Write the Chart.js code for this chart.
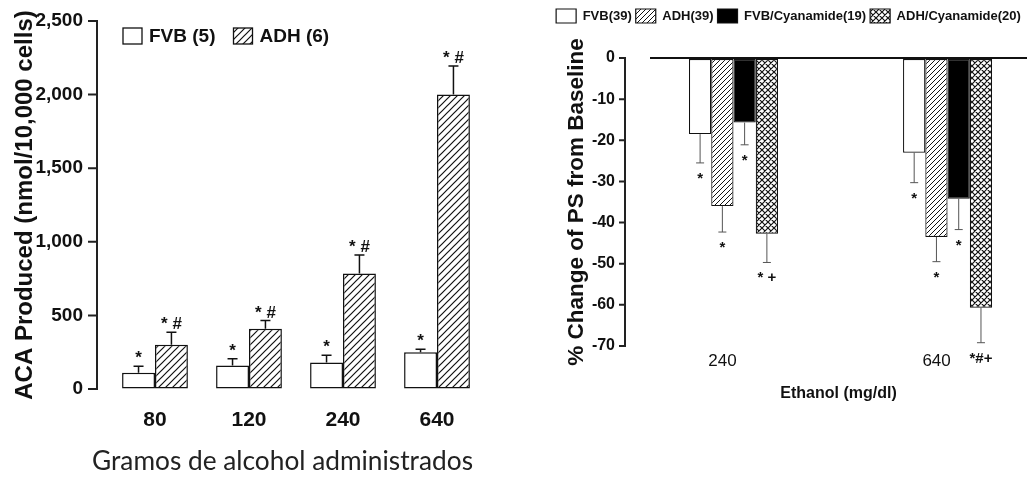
<!DOCTYPE html>
<html>
<head>
<meta charset="utf-8">
<script src="https://cdn.jsdelivr.net/npm/chart.js@4"></script>
<style>
  body { margin: 0; background: #fff; width: 1034px; height: 478px; overflow: hidden; position: relative; }
  #aca { position: absolute; left: 0; top: 0; }
  #ps { position: absolute; left: 540px; top: 0; }
</style>
</head>
<body>
<canvas id="aca" width="520" height="478"></canvas>
<canvas id="ps" width="494" height="478"></canvas>
<script>
// left panel: acetaldehyde produced
const doseLabels = ["80", "120", "240", "640"];
const fvbAca = [110, 160, 180, 250];
const fvbAcaErr = [45, 45, 50, 20];
const fvbAcaMarks = ["*", "*", "*", "*"];
const adhAca = [300, 410, 785, 2000];
const adhAcaErr = [85, 55, 125, 195];
const adhAcaMarks = ["* #", "* #", "* #", "* #"];

// right panel: % change of PS
const ethanolLabels = ["240", "640"];
const fvbPs = [-18.5, -23];
const fvbPsErr = [7, 7.3];
const adhPs = [-36, -43.5];
const adhPsErr = [6.3, 6];
const fvbCyPs = [-15.7, -34.2];
const fvbCyPsErr = [5.4, 7.5];
const adhCyPs = [-42.7, -60.7];
const adhCyPsErr = [7, 8.5];
const fvbPsMarks = ["*", "*"];
const adhPsMarks = ["*", "*"];
const fvbCyPsMarks = ["*", "*"];
const adhCyPsMarks = ["* +", "*#+"];

const SANS = '"Liberation Sans", Arial, sans-serif';
const INK = '#111';
const NONE = 'rgba(0,0,0,0)';

const pts = vals => vals.map((v, i) => ({ x: i, y: v }));

function hatch(size, lw, cross) {
  const c = document.createElement('canvas');
  c.width = c.height = size;
  const g = c.getContext('2d');
  g.fillStyle = '#fff';
  g.fillRect(0, 0, size, size);
  g.strokeStyle = INK;
  g.lineWidth = lw;
  g.beginPath();
  g.moveTo(-1, size + 1); g.lineTo(size + 1, -1);
  g.moveTo(-1, 1); g.lineTo(1, -1);
  g.moveTo(size - 1, size + 1); g.lineTo(size + 1, size - 1);
  if (cross) {
    g.moveTo(-1, -1); g.lineTo(size + 1, size + 1);
    g.moveTo(size - 1, -1); g.lineTo(size + 1, 1);
    g.moveTo(-1, size - 1); g.lineTo(1, size + 1);
  }
  g.stroke();
  return g.createPattern(c, 'repeat');
}

// y axis line drawn at an offset from the plot area edge
const offsetAxis = {
  id: 'offsetAxis',
  afterDraw(chart, args, opts) {
    const { ctx, chartArea } = chart;
    const y = chart.scales.y;
    const x = chartArea.left - opts.gap;
    ctx.save();
    ctx.strokeStyle = '#222';
    ctx.lineWidth = opts.width;
    ctx.beginPath();
    ctx.moveTo(x, y.getPixelForValue(y.max) - 1);
    ctx.lineTo(x, y.getPixelForValue(y.min) + 1);
    y.ticks.forEach(t => {
      const py = y.getPixelForValue(t.value);
      ctx.moveTo(x - opts.tick, py);
      ctx.lineTo(x, py);
    });
    ctx.stroke();
    ctx.restore();
  }
};

// one-sided error bars + significance marks
const errorBars = {
  id: 'errorBars',
  afterDatasetsDraw(chart, args, opts) {
    const { ctx } = chart;
    const y = chart.scales.y;
    chart.data.datasets.forEach((ds, di) => {
      chart.getDatasetMeta(di).data.forEach((bar, i) => {
        const v = ds.data[i].y;
        const dir = v < 0 ? -1 : 1;
        const end = y.getPixelForValue(v + dir * ds.errors[i]);
        ctx.save();
        ctx.strokeStyle = opts.color;
        ctx.lineWidth = opts.width;
        ctx.beginPath();
        ctx.moveTo(bar.x, bar.y);
        ctx.lineTo(bar.x, end);
        ctx.moveTo(bar.x - opts.cap, end);
        ctx.lineTo(bar.x + opts.cap, end);
        ctx.stroke();
        ctx.fillStyle = INK;
        ctx.font = opts.font;
        ctx.textAlign = 'center';
        ctx.textBaseline = 'alphabetic';
        ctx.fillText(ds.marks[i], bar.x, dir > 0 ? end - opts.above : end + opts.below);
        ctx.restore();
      });
    });
  }
};

// legend sitting inside the plot area (left panel)
const insetLegend = {
  id: 'insetLegend',
  afterDraw(chart, args, o) {
    const { ctx, chartArea } = chart;
    let x = chartArea.left + o.x;
    const y = chartArea.top + o.y;
    ctx.save();
    ctx.font = o.font;
    ctx.textBaseline = 'middle';
    ctx.textAlign = 'left';
    chart.data.datasets.forEach(ds => {
      ctx.fillStyle = ds.backgroundColor;
      ctx.fillRect(x, y - o.boxH / 2, o.boxW, o.boxH);
      ctx.strokeStyle = INK;
      ctx.lineWidth = 1.3;
      ctx.strokeRect(x, y - o.boxH / 2, o.boxW, o.boxH);
      ctx.fillStyle = INK;
      ctx.fillText(ds.label, x + o.boxW + o.gap, y + 1);
      x += o.boxW + o.gap + ctx.measureText(ds.label).width + o.spacing;
    });
    ctx.restore();
  }
};

// extra room under the native legend (right panel)
const legendRoom = {
  id: 'legendRoom',
  beforeInit(chart) {
    const fit = chart.legend.fit;
    chart.legend.fit = function () {
      fit.call(this);
      this.height += 25;
    };
  }
};

new Chart(document.getElementById('aca'), {
  type: 'bar',
  data: {
    datasets: [
      { label: 'FVB (5)', data: pts(fvbAca), errors: fvbAcaErr, marks: fvbAcaMarks,
        backgroundColor: '#fff', borderColor: INK, borderWidth: 1.5, borderSkipped: false },
      { label: 'ADH (6)', data: pts(adhAca), errors: adhAcaErr, marks: adhAcaMarks,
        backgroundColor: hatch(7, 1.2, false), borderColor: INK, borderWidth: 1.5, borderSkipped: false }
    ]
  },
  options: {
    responsive: false,
    animation: false,
    layout: { padding: { top: 21, right: 47, left: 0, bottom: 0 } },
    datasets: { bar: { categoryPercentage: 0.7, barPercentage: 1 } },
    scales: {
      x: {
        type: 'linear', offset: false, min: -0.67, max: 3.383,
        afterBuildTicks: s => { s.ticks = doseLabels.map((_, i) => ({ value: i })); },
        afterFit: s => { s.height = 89; },
        grid: { display: false, drawTicks: false },
        border: { display: false },
        ticks: { callback: v => doseLabels[v], color: INK, padding: 19,
                 font: { family: SANS, size: 21, weight: 'bold' } },
        title: { display: true, text: 'Gramos de alcohol administrados', color: '#222',
                 font: { family: 'Lato', size: 27 }, padding: { top: 0, bottom: 1 } }
      },
      y: {
        min: 0, max: 2500,
        afterFit: s => { s.width = 92; },
        grid: { drawOnChartArea: false, drawTicks: true, tickLength: 4, color: NONE },
        border: { display: false },
        ticks: { stepSize: 500, color: INK, padding: 5,
                 callback: v => v.toLocaleString('en-US'),
                 font: { family: SANS, size: 19, weight: 'bold' } },
        title: { display: true, text: 'ACA Produced (nmol/10,000 cells)', color: INK,
                 font: { family: SANS, size: 24, weight: 'bold' }, padding: { top: 11, bottom: 0 } }
      }
    },
    plugins: {
      legend: { display: false },
      tooltip: { enabled: false },
      insetLegend: { x: 31, y: 15, boxW: 19, boxH: 16, gap: 7, spacing: 18,
                     font: 'bold 19px ' + SANS },
      offsetAxis: { gap: -5, tick: 9, width: 2 },
      errorBars: { color: INK, width: 1.5, cap: 5, above: 3, below: 0,
                   font: 'bold 17px ' + SANS }
    }
  },
  plugins: [offsetAxis, errorBars, insetLegend]
});

new Chart(document.getElementById('ps'), {
  type: 'bar',
  data: {
    datasets: [
      { label: 'FVB(39)', data: pts(fvbPs), errors: fvbPsErr, marks: fvbPsMarks,
        backgroundColor: '#fff', borderColor: INK, borderWidth: 1.2, borderSkipped: false },
      { label: 'ADH(39)', data: pts(adhPs), errors: adhPsErr, marks: adhPsMarks,
        backgroundColor: hatch(5, 1, false), borderColor: INK, borderWidth: 1.2, borderSkipped: false },
      { label: 'FVB/Cyanamide(19)', data: pts(fvbCyPs), errors: fvbCyPsErr, marks: fvbCyPsMarks,
        backgroundColor: '#000', borderColor: INK, borderWidth: 1.2, borderSkipped: false },
      { label: 'ADH/Cyanamide(20)', data: pts(adhCyPs), errors: adhCyPsErr, marks: adhCyPsMarks,
        backgroundColor: hatch(6, 1.2, true), borderColor: INK, borderWidth: 1.2, borderSkipped: false }
    ]
  },
  options: {
    responsive: false,
    animation: false,
    layout: { padding: { top: 5, right: 7, left: 10, bottom: 0 } },
    datasets: { bar: { categoryPercentage: 0.416, barPercentage: 1 } },
    scales: {
      x: {
        type: 'linear', offset: false, min: -0.39, max: 1.371,
        afterBuildTicks: s => { s.ticks = ethanolLabels.map((_, i) => ({ value: i })); },
        afterFit: s => { s.height = 132; },
        grid: { display: false, drawTicks: false },
        border: { display: false },
        ticks: { callback: v => ethanolLabels[v], color: INK, padding: 5, labelOffset: -11,
                 font: { family: SANS, size: 17 } },
        title: { display: true, text: 'Ethanol (mg/dl)', color: INK,
                 font: { family: SANS, size: 16, weight: 'bold' }, padding: { top: 0, bottom: 75 } }
      },
      y: {
        min: -70, max: 0,
        afterFit: s => { s.width = 100; },
        grid: { drawTicks: true, tickLength: 30, tickColor: NONE, lineWidth: 2,
                color: c => (c.tick && c.tick.value === 0 ? INK : NONE) },
        border: { display: false },
        ticks: { stepSize: 10, color: INK, padding: 5,
                 font: { family: SANS, size: 16, weight: 'bold' } },
        title: { display: true, text: '% Change of PS from Baseline', color: INK,
                 font: { family: SANS, size: 22.5, weight: 'bold' }, padding: { top: 13, bottom: 0 } }
      }
    },
    plugins: {
      legend: {
        position: 'top', align: 'center',
        labels: { boxWidth: 20, boxHeight: 14, padding: 4, color: INK,
                  font: { family: SANS, size: 13, weight: 'bold' } }
      },
      tooltip: { enabled: false },
      offsetAxis: { gap: 25, tick: 6, width: 2 },
      errorBars: { color: '#555', width: 1, cap: 4, above: 3, below: 20,
                   font: 'bold 15px ' + SANS }
    }
  },
  plugins: [legendRoom, offsetAxis, errorBars]
});
</script>
</body>
</html>
